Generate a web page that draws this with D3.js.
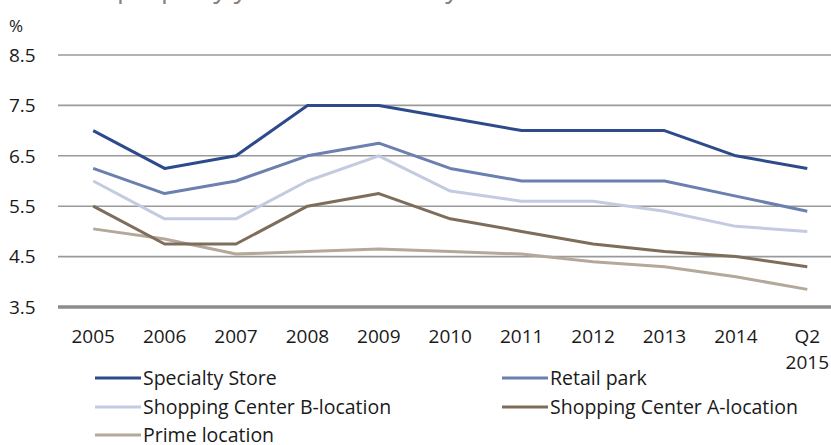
<html>
<head>
<meta charset="utf-8">
<title>Retail yields</title>
<style>
  body { margin: 0; background: #fff; }
  text { font-family: "Open Sans", sans-serif; fill: #1a1a1a; }
</style>
</head>
<body>
<script src="https://cdn.jsdelivr.net/npm/d3@7/dist/d3.min.js"></script>
<script>
var width = 831, height = 445;

var categories = ["2005", "2006", "2007", "2008", "2009", "2010", "2011", "2012", "2013", "2014", "Q2 2015"];
var yTicks = [3.5, 4.5, 5.5, 6.5, 7.5, 8.5];

var seriesNames = ["Specialty Store", "Retail park", "Shopping Center B-location", "Shopping Center A-location", "Prime location"];
var specialtyStore = [7.0, 6.25, 6.5, 7.5, 7.5, 7.25, 7.0, 7.0, 7.0, 6.5, 6.25];
var retailPark     = [6.25, 5.75, 6.0, 6.5, 6.75, 6.25, 6.0, 6.0, 6.0, 5.7, 5.4];
var centerB        = [6.0, 5.25, 5.25, 6.0, 6.5, 5.8, 5.6, 5.6, 5.4, 5.1, 5.0];
var centerA        = [5.5, 4.75, 4.75, 5.5, 5.75, 5.25, 5.0, 4.75, 4.6, 4.5, 4.3];
var primeLocation  = [5.05, 4.85, 4.55, 4.6, 4.65, 4.6, 4.55, 4.4, 4.3, 4.1, 3.85];
var seriesValues = [specialtyStore, retailPark, centerB, centerA, primeLocation];
var colors = ["#2c4a8c", "#6b7fb0", "#c4cbe0", "#7f6d5c", "#b4a89a"];

var svg = d3.select("body").append("svg")
  .attr("width", width).attr("height", height);

// title sits above the visible area, only descenders peek in
svg.append("text")
  .attr("x", 40).attr("y", -3)
  .style("font-size", "27px").style("fill", "#8c8279")
  .text("Retail property yields in Germany");

var x = d3.scalePoint().domain(categories).range([57.5, 843]).padding(0.5);
var y = d3.scaleLinear().domain([3.5, 8.5]).range([307, 55]);

// gridlines
svg.append("g").selectAll("line")
  .data(yTicks.filter(function(d){ return d > 3.5; }))
  .enter().append("line")
  .attr("x1", 58).attr("x2", width)
  .attr("y1", function(d){ return y(d); })
  .attr("y2", function(d){ return y(d); })
  .attr("stroke", "#9a9a9a").attr("stroke-width", 1.6);

// y tick labels
svg.append("g").selectAll("text")
  .data(yTicks).enter().append("text")
  .attr("x", 9).attr("y", function(d){ return y(d); })
  .attr("dy", "0.36em")
  .style("font-size", "19px")
  .text(function(d){ return d.toFixed(1); });

svg.append("text").attr("x", 9).attr("y", 32)
  .style("font-size", "17px").text("%");

// series lines
var line = d3.line()
  .x(function(d, i){ return x(categories[i]); })
  .y(function(d){ return y(d); });

svg.append("g").selectAll("path")
  .data(seriesValues.slice().reverse()).enter().append("path")
  .attr("d", function(d){ return line(d); })
  .attr("fill", "none")
  .attr("stroke", function(d, i){ return colors[seriesValues.length - 1 - i]; })
  .attr("stroke-width", 3)
  .attr("stroke-linejoin", "round");

// bottom axis line
svg.append("line")
  .attr("x1", 58).attr("x2", width)
  .attr("y1", y(3.5)).attr("y2", y(3.5))
  .attr("stroke", "#8c8c8c").attr("stroke-width", 3.5);

// x tick labels (Q2 2015 on two lines)
var xl = svg.append("g").selectAll("text")
  .data(categories).enter().append("text")
  .attr("x", function(d){ return x(d); })
  .attr("y", 343)
  .attr("text-anchor", "middle")
  .style("font-size", "19px");
xl.each(function(d){
  var parts = d.split(" ");
  var t = d3.select(this);
  parts.forEach(function(p, j){
    t.append("tspan").attr("x", x(d)).attr("dy", j === 0 ? 0 : 26).text(p);
  });
});

// legend
var legendPos = [[95, 378], [502, 378], [95, 407], [502, 407], [95, 435]];
var lg = svg.append("g").selectAll("g")
  .data(seriesNames).enter().append("g")
  .attr("transform", function(d, i){ return "translate(" + legendPos[i][0] + "," + legendPos[i][1] + ")"; });
lg.append("line")
  .attr("x1", 0).attr("x2", 46).attr("y1", 0).attr("y2", 0)
  .attr("stroke", function(d, i){ return colors[i]; })
  .attr("stroke-width", 3);
lg.append("text")
  .attr("x", 48).attr("y", 7)
  .style("font-size", "19.5px")
  .text(function(d){ return d; });
</script>
</body>
</html>
